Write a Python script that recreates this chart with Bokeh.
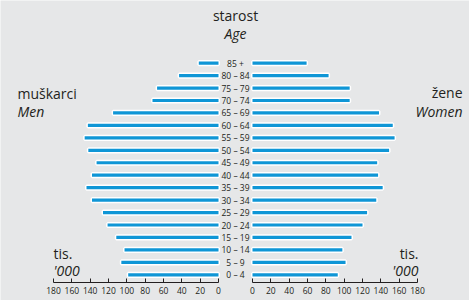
from bokeh.plotting import figure
from bokeh.models import (Range1d, LinearAxis, FixedTicker, CustomJSTickFormatter,
                          ColumnDataSource, Label)
from bokeh.core.properties import value
from bokeh.embed import file_html
from bokeh.resources import INLINE

# ---------------- data ----------------
age_groups = ["0 – 4", "5 – 9", "10 – 14", "15 – 19", "20 – 24", "25 – 29",
              "30 – 34", "35 – 39", "40 – 44", "45 – 49", "50 – 54", "55 – 59",
              "60 – 64", "65 – 69", "70 – 74", "75 – 79", "80 – 84", "85 +"]
men = [98.5, 106, 102.5, 111.5, 121, 126, 138, 144, 138, 133,
       142, 146, 142.5, 115, 72, 67, 43, 21.5]
women = [93, 101.5, 98, 108, 120, 125, 135, 142, 137, 136,
         149, 155, 153, 138, 106, 106, 83, 59]
tick_values = [0, 20, 40, 60, 80, 100, 120, 140, 160, 180]

# ---------------- layout constants (page px) ----------------
W, H = 469, 300
SX = 165 / 180                   # px per thousand
SY = 12.45                       # px per age group
CENTER_PX = 235                  # centre of the gap
GAP = 17 / SX                    # half gap in data units
Y0_PX = 274.3                    # y of first group centre
AXIS_PX = 282                    # y of axis line

x_start = -CENTER_PX / SX
x_end = (W - CENTER_PX) / SX
y_start = -(H - Y0_PX) / SY
y_end = Y0_PX / SY


def px_x(page_x):
    return (page_x - CENTER_PX) / SX


def px_y(page_y):
    return (Y0_PX - page_y) / SY


BG = "#e6e7e8"
BLUE = "#0f96d6"
TXT = "#231f20"
FONT = "Open Sans"

idx = list(range(len(age_groups)))
src = ColumnDataSource(dict(
    y=idx,
    label=age_groups,
    men_l=[-(GAP + v) for v in men],
    men_r=[-GAP] * len(men),
    wom_l=[GAP] * len(women),
    wom_r=[GAP + v for v in women],
))

p = figure(width=W, height=H, output_backend="svg", toolbar_location=None,
           x_range=Range1d(x_start, x_end), y_range=Range1d(y_start, y_end),
           x_axis_type=None, y_axis_type=None,
           min_border_left=0, min_border_right=0, min_border_top=0,
           min_border_bottom=0)
p.background_fill_color = BG
p.border_fill_color = BG
p.outline_line_color = None
p.grid.visible = False

bar_h = 3.2 / SY
for l, r in (("men_l", "men_r"), ("wom_l", "wom_r")):
    p.hbar(y="y", left=l, right=r, height=bar_h, source=src,
           fill_color="white", line_color="white", line_width=3)
    p.hbar(y="y", left=l, right=r, height=bar_h, source=src,
           fill_color=BLUE, line_color=None)

p.text(x=0, y="y", text="label", source=src, text_align="center",
       text_baseline="middle", text_font=value(FONT), text_font_size="8.5px",
       text_color=TXT)

# axes
fmt = CustomJSTickFormatter(args=dict(G=GAP),
                            code="return String(Math.round(Math.abs(tick) - G));")
for sign in (-1, 1):
    ticks = [sign * (GAP + t) for t in tick_values]
    ax = LinearAxis(ticker=FixedTicker(ticks=ticks), formatter=fmt,
                    bounds=(min(ticks), max(ticks)), fixed_location=px_y(AXIS_PX))
    ax.axis_line_color = TXT
    ax.axis_line_width = 1
    ax.major_tick_line_color = TXT
    ax.major_tick_in = 4
    ax.major_tick_out = 0
    ax.minor_tick_line_color = None
    ax.major_label_standoff = 4
    ax.major_label_text_font = FONT
    ax.major_label_text_font_size = "8.5px"
    ax.major_label_text_color = TXT
    p.add_layout(ax, "below")


def lab(text, page_x, page_y, align, italic=False):
    p.add_layout(Label(x=px_x(page_x), y=px_y(page_y), text=text,
                       text_align=align, text_baseline="alphabetic",
                       text_font=FONT, text_font_size="14px",
                       text_font_style="italic" if italic else "normal",
                       text_color=TXT))


lab("starost", 235, 15, "center")
lab("Age", 235, 33, "center", True)
lab("muškarci", 17, 93, "left")
lab("Men", 17, 111, "left", True)
lab("žene", 462, 92, "right")
lab("Women", 462, 111, "right", True)
lab("tis.", 53, 253, "left")
lab("'000", 53, 270, "left", True)
lab("tis.", 418, 253, "right")
lab("'000", 418, 270, "right", True)

open("out.html", "w").write(file_html(p, INLINE))
